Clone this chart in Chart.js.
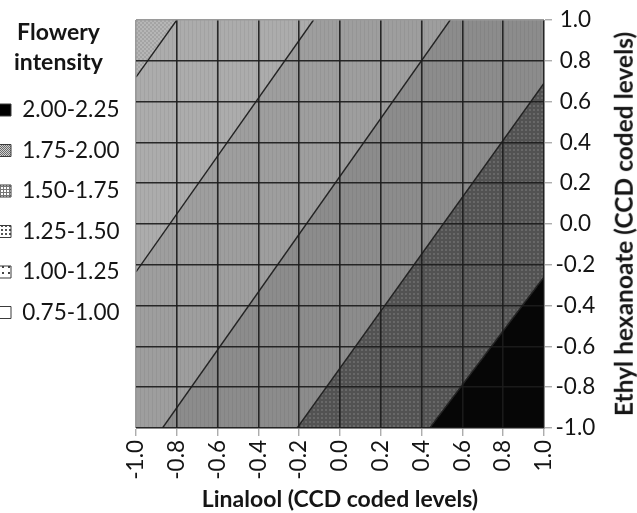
<!DOCTYPE html>
<html><head><meta charset="utf-8">
<script src="https://cdn.jsdelivr.net/npm/chart.js@4.4.0/dist/chart.umd.min.js"></script>
<style>
html,body{margin:0;padding:0;background:#fff;}
#wrap{position:relative;width:637px;height:513px;overflow:hidden;background:#fff;}
#ytitle{position:absolute;left:624px;top:224px;transform:translate(-50%,-50%) rotate(-90deg);font:bold 24.5px Lato, sans-serif;color:#151515;white-space:nowrap;line-height:1;}
</style></head><body>
<div id="wrap"><canvas id="c" width="637" height="513"></canvas><div id="ytitle">Ethyl hexanoate (CCD coded levels)</div></div>
<script>
// ---- data ----
const levels = ['0.75-1.00', '1.00-1.25', '1.25-1.50', '1.50-1.75', '1.75-2.00', '2.00-2.25'];
// contour lines between consecutive levels: start point (left/bottom frame) and end point (top/right frame)
const contourStartX = [-1.00, -1.00, -0.87, -0.21, 0.44];
const contourStartY = [0.72, -0.235, -1.00, -1.00, -1.00];
const contourEndX   = [-0.80, -0.13, 0.54, 1.00, 1.00];
const contourEndY   = [1.00, 1.00, 1.00, 0.69, -0.26];
const axisMin = -1.0;
const axisMax = 1.0;
const xTickValues = [-1.0, -0.8, -0.6, -0.4, -0.2, 0.0, 0.2, 0.4, 0.6, 0.8, 1.0];
const xTickLabels = ['-1.0', '-0.8', '-0.6', '-0.4', '-0.2', '0.0', '0.2', '0.4', '0.6', '0.8', '1.0'];
const yTickValues = [-1.0, -0.8, -0.6, -0.4, -0.2, 0.0, 0.2, 0.4, 0.6, 0.8, 1.0];
const yTickLabels = ['-1.0', '-0.8', '-0.6', '-0.4', '-0.2', '0.0', '0.2', '0.4', '0.6', '0.8', '1.0'];

// ---- build region polygons from the contours and the plot frame ----
const span = axisMax - axisMin;
function perim(x, y) { // clockwise position along frame starting at top-left corner
  if (y === axisMax && x < axisMax) return (x - axisMin);
  if (x === axisMax && y > axisMin) return span + (axisMax - y);
  if (y === axisMin && x > axisMin) return 2 * span + (axisMax - x);
  return 3 * span + (y - axisMin);
}
const corners = [
  {t: span, x: axisMax, y: axisMax},
  {t: 2 * span, x: axisMax, y: axisMin},
  {t: 3 * span, x: axisMin, y: axisMin},
  {t: 4 * span, x: axisMin, y: axisMax}
];
function between(t0, t1) {
  return corners.filter(c => c.t > t0 && c.t < t1).map(c => ({x: c.x, y: c.y}));
}
const contours = contourStartX.map((_, i) => ({
  s: {x: contourStartX[i], y: contourStartY[i]},
  e: {x: contourEndX[i], y: contourEndY[i]},
  ts: perim(contourStartX[i], contourStartY[i]),
  te: perim(contourEndX[i], contourEndY[i])
}));
const first = {s: {x: axisMin, y: axisMax}, e: {x: axisMin, y: axisMax}, ts: 4 * span, te: 0};
const last = {s: {x: axisMax, y: axisMin}, e: {x: axisMax, y: axisMin}, ts: 2 * span, te: 2 * span};
const bounds = [first, ...contours, last];
const regions = levels.map((_, i) => {
  const A = bounds[i], B = bounds[i + 1];
  return [A.s, A.e, ...between(A.te, B.te), B.e, B.s, ...between(B.ts, A.ts)];
});

// ---- patterns ----
function pat(w, h, draw) {
  const c = document.createElement('canvas'); c.width = w; c.height = h;
  const g = c.getContext('2d'); draw(g);
  return g.createPattern(c, 'repeat');
}
const plotFills = [
  pat(4, 4, g => { g.fillStyle = '#b6b6b6'; g.fillRect(0, 0, 4, 4); g.fillStyle = '#a4a4a4'; g.fillRect(0, 0, 2, 2); g.fillRect(2, 2, 2, 2); }),
  pat(4, 4, g => { g.fillStyle = '#acacac'; g.fillRect(0, 0, 4, 4); g.fillStyle = '#a2a2a2'; g.fillRect(0, 0, 1, 4); }),
  pat(4, 4, g => { g.fillStyle = '#9e9e9e'; g.fillRect(0, 0, 4, 4); g.fillStyle = '#959595'; g.fillRect(0, 0, 1, 4); }),
  pat(4, 4, g => { g.fillStyle = '#8c8c8c'; g.fillRect(0, 0, 4, 4); g.fillStyle = '#848484'; g.fillRect(0, 0, 1, 4); }),
  pat(4, 4, g => { g.fillStyle = '#525252'; g.fillRect(0, 0, 4, 4); g.fillStyle = '#686868'; g.fillRect(1, 1, 2, 2); }),
  '#060606'
];
const swatchFills = [
  '#ffffff',
  pat(6, 6, g => { g.fillStyle = '#fff'; g.fillRect(0, 0, 6, 6); g.fillStyle = '#444'; g.fillRect(2, 2, 2, 2); }),
  pat(4, 4, g => { g.fillStyle = '#fff'; g.fillRect(0, 0, 4, 4); g.fillStyle = '#555'; g.fillRect(1, 1, 2, 2); }),
  pat(3, 3, g => { g.fillStyle = '#fff'; g.fillRect(0, 0, 3, 3); g.fillStyle = '#777'; g.fillRect(0, 0, 3, 1); g.fillRect(0, 0, 1, 3); }),
  pat(2, 2, g => { g.fillStyle = '#d0d0d0'; g.fillRect(0, 0, 2, 2); g.fillStyle = '#6a6a6a'; g.fillRect(0, 0, 1, 1); g.fillRect(1, 1, 1, 1); }),
  '#000000'
];

const FONT = 'Lato, sans-serif';
const TXT = '#151515';
const LABEL_SIZE = 22.5;
const ROW_PAD = 18;
const PAD_LEFT = -19;
const LEGEND_W = 136 - PAD_LEFT;

const legendWidth = {
  id: 'legendWidth',
  beforeLayout(chart) {
    const lg = chart.legend;
    if (lg && !lg._wPatched) {
      const orig = lg.fit.bind(lg);
      lg.fit = function () { orig(); this.width = LEGEND_W; };
      lg._wPatched = true;
    }
  }
};

const datasets = [];
regions.forEach((pts, i) => {
  datasets.push({
    label: levels[i], data: pts, showLine: true, fill: 'shape',
    backgroundColor: plotFills[i], borderColor: 'rgba(0,0,0,0)', borderWidth: 0,
    pointRadius: 0, order: 2
  });
});
contours.forEach((c, i) => {
  datasets.push({
    label: 'contour' + i, data: [c.s, c.e], showLine: true, fill: false,
    borderColor: '#222222', borderWidth: 1.4, pointRadius: 0, order: 1
  });
});

const gridColor = (edgeIndex) => (ctx) => (ctx.index === edgeIndex ? '#9a9a9a' : 'rgba(28,28,28,0.92)');

new Chart(document.getElementById('c'), {
  type: 'scatter',
  data: {datasets},
  plugins: [legendWidth],
  options: {
    responsive: false, animation: false, devicePixelRatio: 1, events: [],
    layout: {padding: {left: PAD_LEFT, top: 20, right: 0, bottom: 0}},
    plugins: {
      tooltip: {enabled: false},
      legend: {
        position: 'left', align: 'start',
        title: {display: true, text: ['Flowery', 'intensity'], color: TXT,
          font: {family: FONT, size: 23, weight: 'bold', lineHeight: 30 / 23},
          padding: {top: 1.5, bottom: 29.25}},
        labels: {
          boxWidth: 12, boxHeight: 12, padding: ROW_PAD, color: TXT,
          font: {family: FONT, size: LABEL_SIZE},
          generateLabels: () => levels.map((lv, i) => ({
            text: lv, fillStyle: swatchFills[i], strokeStyle: '#3a3a3a', lineWidth: 1,
            hidden: false, datasetIndex: i, fontColor: TXT
          })).reverse()
        }
      }
    },
    scales: {
      x: {
        type: 'linear', position: 'bottom', min: axisMin, max: axisMax,
        afterBuildTicks: s => { s.ticks = xTickValues.map(v => ({value: v})); },
        afterFit: s => { s.height = 85; },
        ticks: {autoSkip: false, minRotation: 90, maxRotation: 90, padding: 4, color: TXT,
          font: {family: FONT, size: LABEL_SIZE}, callback: (v, i) => xTickLabels[i]},
        grid: {z: 1, color: gridColor(0), lineWidth: 1.6, tickColor: '#8a8a8a', tickLength: 8, tickWidth: 1},
        border: {z: 2, color: '#8a8a8a', width: 1},
        title: {display: true, text: 'Linalool (CCD coded levels)', color: TXT,
          font: {family: FONT, size: 23, weight: 'bold'}, padding: {top: 0, bottom: 0}}
      },
      y: {
        type: 'linear', position: 'right', min: axisMin, max: axisMax,
        afterBuildTicks: s => { s.ticks = yTickValues.map(v => ({value: v})); },
        afterFit: s => { s.width = 93; },
        ticks: {autoSkip: false, padding: 3.5, crossAlign: 'center', color: TXT,
          font: {family: FONT, size: LABEL_SIZE}, callback: (v, i) => yTickLabels[i]},
        grid: {z: 1, color: gridColor(10), lineWidth: 1.6, tickColor: '#8a8a8a', tickLength: 8, tickWidth: 1},
        border: {z: 2, color: '#8a8a8a', width: 1},
        title: {display: false}
      }
    }
  }
});
</script>
</body></html>
